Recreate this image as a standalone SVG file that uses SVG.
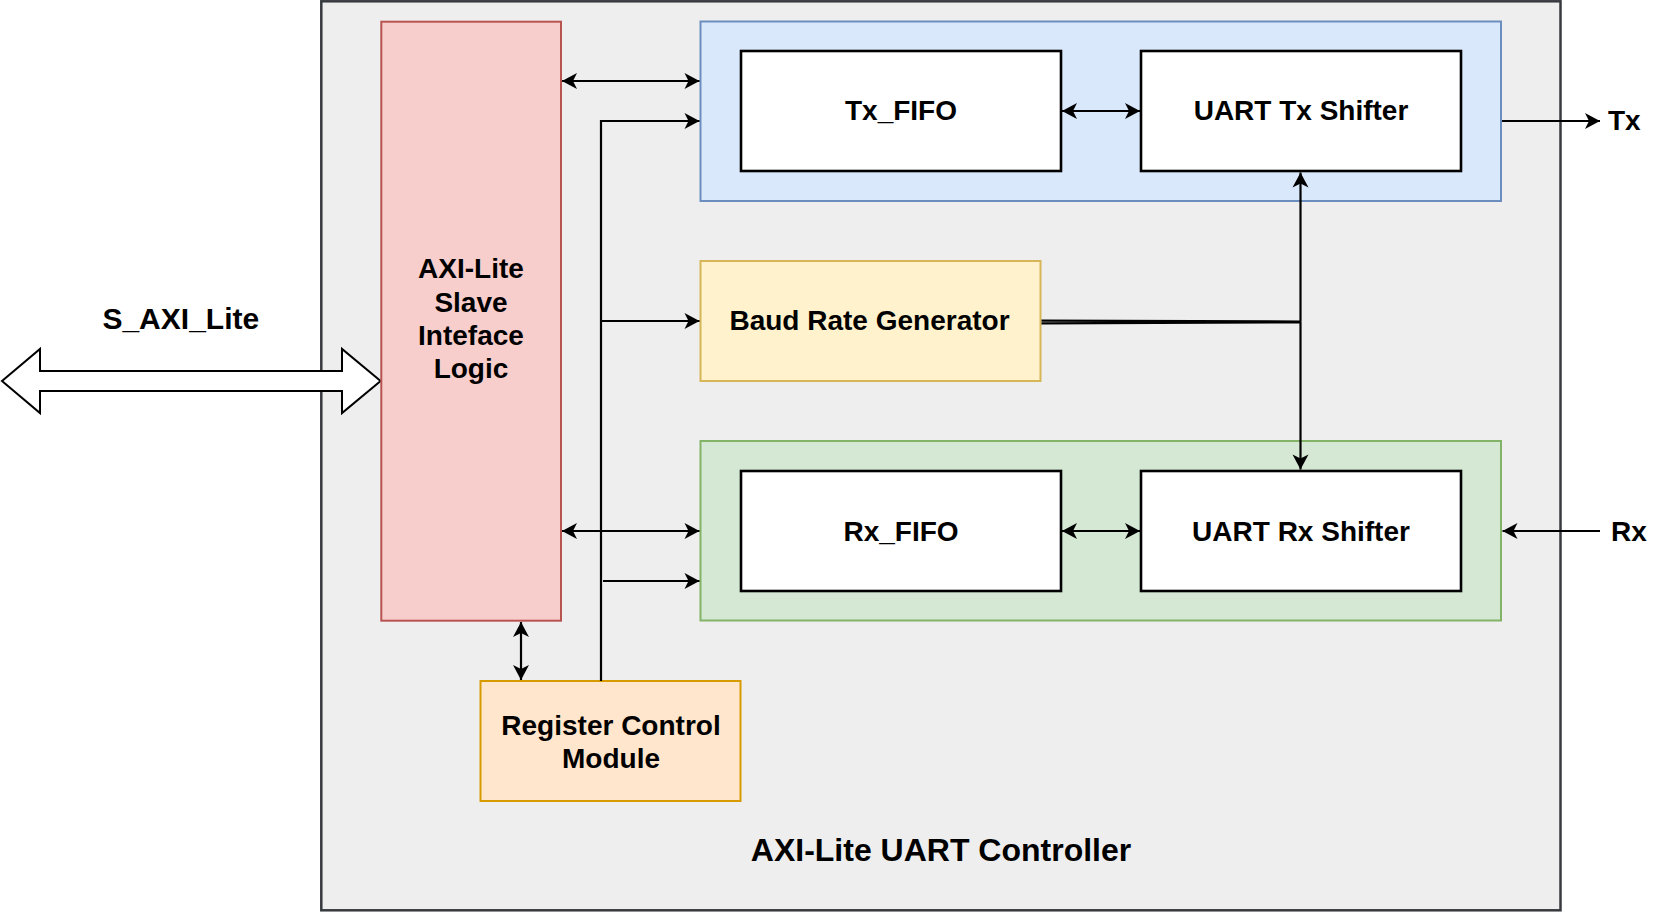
<svg xmlns="http://www.w3.org/2000/svg" width="1670" height="914" viewBox="0 0 1670 914">
<style>
text{font-family:"Liberation Sans",Arial,Helvetica,sans-serif;font-weight:bold;fill:#000}
.n{font-size:28px;text-anchor:middle}
.w{fill:#ffffff;stroke:#000;stroke-width:2.6}
.c{fill:none;stroke:#000;stroke-width:2.2}
</style>
<defs>
<marker id="ah" markerUnits="userSpaceOnUse" markerWidth="20" markerHeight="20" viewBox="-16 -10 20 20" refX="0" refY="0" orient="auto-start-reverse">
<path d="M0,0 L-15,-8 L-11,0 L-15,8 Z" fill="#000"/>
</marker>
</defs>
<rect width="1670" height="914" fill="#ffffff"/>
<g id="container">
<rect x="321.3" y="1.3" width="1239.2" height="909" fill="#eeeeee" stroke="#36393d" stroke-width="2.5"/>
<text x="941" y="860.7" style="font-size:32px;text-anchor:middle">AXI-Lite UART Controller</text>
</g>
<g id="s_axi_lite">
<polygon points="2,381 40,349 40,371 342,371 342,349 380.6,381 342,413 342,391 40,391 40,413" fill="#ffffff" stroke="#000" stroke-width="2"/>
<text x="180.8" y="329.3" style="font-size:30px;text-anchor:middle">S_AXI_Lite</text>
</g>
<g id="axi_slave">
<rect x="381.3" y="21.7" width="179.7" height="599" fill="#f8cecc" stroke="#b85450" stroke-width="2"/>
<text class="n" x="471" y="278.3">AXI-Lite</text>
<text class="n" x="471" y="311.6">Slave</text>
<text class="n" x="471" y="345">Inteface</text>
<text class="n" x="471" y="378.3">Logic</text>
</g>
<g id="tx_group">
<rect x="700.5" y="21.5" width="800.5" height="179.5" fill="#dae8fc" stroke="#6c8ebf" stroke-width="2"/>
</g>
<g id="tx_fifo">
<rect class="w" x="741" y="51" width="320" height="120"/>
<text class="n" x="901" y="119.5">Tx_FIFO</text>
</g>
<g id="tx_shifter">
<rect class="w" x="1141" y="51" width="320" height="120"/>
<text class="n" x="1301" y="119.5">UART Tx Shifter</text>
</g>
<g id="baud">
<rect x="700.5" y="261" width="340" height="120" fill="#fff2cc" stroke="#d6b656" stroke-width="2"/>
<text class="n" x="869.5" y="329.5">Baud Rate Generator</text>
</g>
<g id="rx_group">
<rect x="700.5" y="441" width="800.5" height="179.5" fill="#d5e8d4" stroke="#82b366" stroke-width="2"/>
</g>
<g id="rx_fifo">
<rect class="w" x="741" y="471" width="320" height="120"/>
<text class="n" x="901" y="540.5">Rx_FIFO</text>
</g>
<g id="rx_shifter">
<rect class="w" x="1141" y="471" width="320" height="120"/>
<text class="n" x="1301" y="540.5">UART Rx Shifter</text>
</g>
<g id="register">
<rect x="480.5" y="681" width="260" height="120" fill="#ffe6cc" stroke="#d79b00" stroke-width="2"/>
<text class="n" x="611" y="735">Register Control</text>
<text class="n" x="611" y="768">Module</text>
</g>
<g id="tx_label"><text x="1608" y="129.5" style="font-size:28px">Tx</text></g>
<g id="rx_label"><text x="1611" y="540.5" style="font-size:28px">Rx</text></g>
<g id="connectors">
<path class="c" d="M562,81 L699.5,81" marker-start="url(#ah)" marker-end="url(#ah)"/>
<path class="c" d="M601,681 L601,121 L699.5,121" marker-end="url(#ah)"/>
<path class="c" d="M601,321 L699.5,321" marker-end="url(#ah)"/>
<path class="c" d="M603,581 L699.5,581" marker-end="url(#ah)"/>
<path class="c" d="M562,531 L699.5,531" marker-start="url(#ah)" marker-end="url(#ah)"/>
<path class="c" d="M521,622 L521,680" marker-start="url(#ah)" marker-end="url(#ah)"/>
<path class="c" d="M1062,111 L1140,111" marker-start="url(#ah)" marker-end="url(#ah)"/>
<path class="c" d="M1062,531 L1140,531" marker-start="url(#ah)" marker-end="url(#ah)"/>
<path class="c" d="M1041.5,320.7 L1300.5,321.5"/>
<path class="c" d="M1041.5,323.3 L1300.5,322.3"/>
<path class="c" d="M1300.5,321.5 L1300.5,172.5" marker-end="url(#ah)"/>
<path class="c" d="M1300.5,321.5 L1300.5,469.5" marker-end="url(#ah)"/>
<path class="c" d="M1502,121 L1600,121" marker-end="url(#ah)"/>
<path class="c" d="M1600,531 L1502.5,531" marker-end="url(#ah)"/>
</g>
</svg>
